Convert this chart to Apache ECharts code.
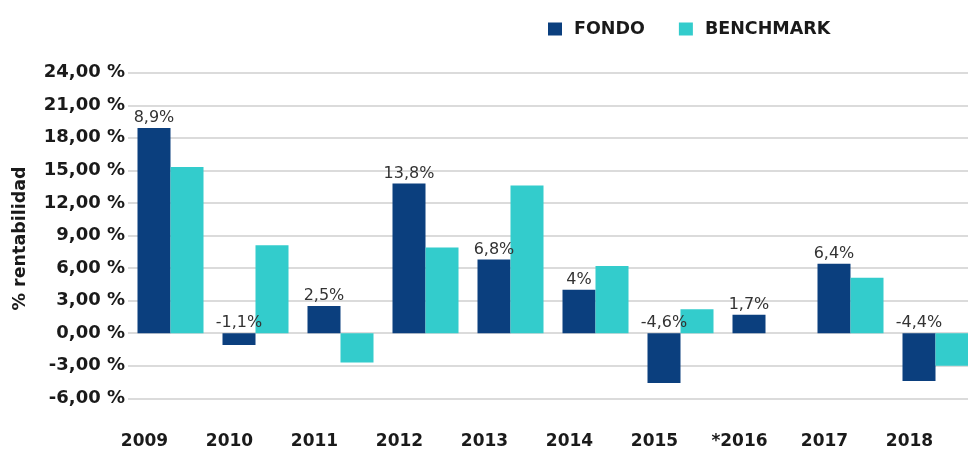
<!DOCTYPE html>
<html>
<head>
<meta charset="utf-8">
<script src="https://cdn.jsdelivr.net/npm/echarts@6/dist/echarts.min.js"></script>
<style>html,body{margin:0;padding:0;background:#fff}#c{width:968px;height:454px}</style>
</head>
<body>
<div id="c"></div>
<script>
const categories = ['2009','2010','2011','2012','2013','2014','2015','*2016','2017','2018'];
const fondo = [18.9, -1.1, 2.5, 13.8, 6.8, 4.0, -4.6, 1.7, 6.4, -4.4];
const benchmark = [15.3, 8.1, -2.7, 7.9, 13.6, 6.2, 2.2, null, 5.1, -3.0];
const fondoLabels = ['8,9%','-1,1%','2,5%','13,8%','6,8%','4%','-4,6%','1,7%','6,4%','-4,4%'];
const seriesNames = ['FONDO','BENCHMARK'];
const yAxisName = '% rentabilidad';

const chart = echarts.init(document.getElementById('c'), null, {renderer:'canvas'});
const FF = '"DejaVu Sans", Verdana, sans-serif';
const boldFont = {fontFamily:FF, fontWeight:'bold', fontSize:17, color:'#1a1a1a'};
chart.setOption({
  animation:false,
  backgroundColor:'#ffffff',
  legend:{
    data:seriesNames, left:543, top:15, itemWidth:14, itemHeight:13, itemGap:34,
    icon:'rect',
    textStyle:Object.assign({}, boldFont, {fontSize:17.5, padding:[0,0,0,7]})
  },
  grid:{left:128, top:72.7, width:850, height:325.6, containLabel:false, outerBoundsMode:'none'},
  xAxis:{
    type:'category', data:categories,
    axisLine:{show:false}, axisTick:{show:false},
    axisLabel:Object.assign({}, boldFont, {margin:35, padding:[0,52,0,0], interval:0})
  },
  yAxis:{
    type:'value', min:-6, max:24, interval:3,
    name:yAxisName, nameLocation:'middle', nameGap:99, nameRotate:90,
    nameTextStyle:Object.assign({}, boldFont, {fontSize:17.5, padding:[0,6,0,0]}),
    axisLine:{show:false}, axisTick:{show:false},
    axisLabel:Object.assign({}, boldFont, {fontSize:18, margin:3, formatter:v => v.toFixed(2).replace('.',',') + ' %'}),
    splitLine:{lineStyle:{color:'#cfcfcf', width:1.5}}
  },
  series:[
    {
      name:seriesNames[0], type:'bar', data:fondo, barWidth:33, barGap:'0%',
      itemStyle:{color:'#0b3f7e'},
      label:{show:true, position:'top', distance:2, fontFamily:FF, fontSize:16, color:'#333',
        formatter:p => fondoLabels[p.dataIndex]}
    },
    {
      name:seriesNames[1], type:'bar', data:benchmark, barWidth:33, barGap:'0%',
      itemStyle:{color:'#33cccc'}
    }
  ]
});
</script>
</body>
</html>
